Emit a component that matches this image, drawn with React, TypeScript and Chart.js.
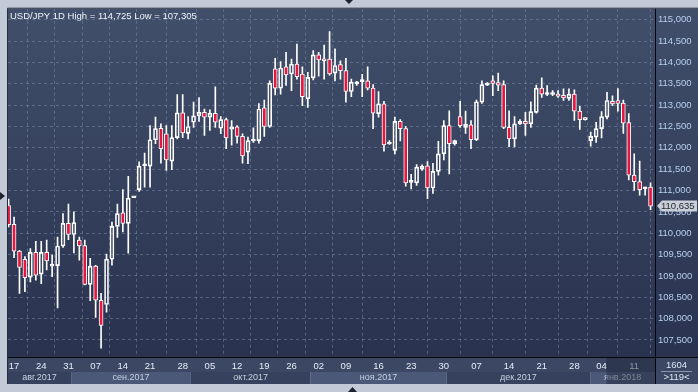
import React, { useEffect, useRef } from 'react';
import { Chart, registerables } from 'chart.js';

Chart.register(...registerables);

const titleText = 'USD/JPY 1D High = 114,725 Low = 107,305';

const opens = [
  110.65, 110.21, 109.58, 109.39, 108.97, 109.55, 109.04, 109.55, 109.23, 109.24,
  109.70, 110.23, 109.97, 109.84, 109.71, 108.80, 109.23, 108.43, 108.33, 109.39,
  110.16, 110.48, 110.23, 110.83, 111.02, 111.58, 111.57, 112.19, 112.46, 112.33,
  111.69, 112.24, 112.82, 112.34, 112.60, 112.75, 112.83, 112.72, 112.81, 112.46,
  112.66, 112.44, 112.49, 112.27, 111.90, 112.16, 112.17, 112.94, 112.50, 113.85,
  113.40, 113.90, 113.73, 113.96, 113.73, 113.15, 113.64, 114.18, 114.08, 114.08,
  113.75, 113.95, 113.81, 113.32, 113.50, 113.55, 113.57, 113.40, 112.80, 113.03,
  112.09, 111.94, 112.62, 112.45, 111.19, 111.18, 111.50, 111.58, 111.06, 111.45,
  111.86, 112.52, 112.10, 112.73, 112.48, 112.54, 112.19, 113.07, 113.47, 113.57,
  113.53, 113.48, 112.48, 112.21, 112.56, 112.62, 112.56, 112.83, 113.40, 113.25,
  113.25, 113.26, 113.23, 113.16, 113.26, 112.86, 112.66, 112.17, 112.25, 112.45,
  112.72, 113.09, 113.11, 113.05, 112.59, 111.36, 111.21, 111.04, 111.08,
];
const highs = [
  110.80, 110.38, 109.60, 109.45, 109.64, 109.81, 109.81, 109.84, 109.49, 109.91,
  110.46, 110.68, 110.50, 109.91, 109.84, 109.41, 109.25, 108.59, 109.51, 110.26,
  110.68, 111.02, 111.33, 110.85, 111.67, 111.88, 112.52, 112.72, 112.56, 112.52,
  112.52, 113.25, 113.25, 112.73, 113.07, 113.18, 112.91, 112.89, 113.43, 112.73,
  112.70, 112.64, 112.52, 112.33, 112.25, 112.47, 113.04, 113.12, 113.57, 114.10,
  114.02, 114.24, 114.08, 114.43, 113.90, 113.77, 114.28, 114.24, 114.41, 114.725,
  114.32, 114.04, 114.10, 113.61, 113.56, 113.72, 113.90, 113.48, 113.32, 113.09,
  112.17, 112.72, 112.66, 112.50, 111.38, 111.61, 111.60, 111.68, 111.64, 112.15,
  112.64, 112.87, 112.18, 113.09, 112.86, 112.64, 113.12, 113.57, 113.53, 113.69,
  113.75, 113.57, 112.87, 112.73, 112.66, 112.83, 113.08, 113.47, 113.64, 113.46,
  113.34, 113.34, 113.38, 113.38, 113.36, 112.97, 112.71, 112.37, 112.60, 112.85,
  113.30, 113.22, 113.39, 113.12, 112.80, 111.86, 111.69, 111.08, 111.18,
];
const lows = [
  110.15, 109.43, 108.59, 108.63, 108.86, 108.90, 108.82, 109.14, 108.98, 108.25,
  109.67, 109.85, 109.54, 109.37, 108.79, 108.42, 108.03, 107.305, 108.15, 109.25,
  109.90, 110.03, 109.53, 110.83, 110.98, 111.08, 111.08, 112.10, 111.64, 111.47,
  111.49, 112.21, 112.24, 112.21, 112.48, 112.62, 112.29, 112.41, 112.48, 112.33,
  111.98, 112.06, 112.11, 111.64, 111.63, 112.13, 112.11, 112.27, 112.48, 113.24,
  113.26, 113.46, 113.34, 113.61, 112.99, 112.95, 113.59, 113.68, 113.61, 113.70,
  113.57, 113.61, 113.07, 113.20, 113.46, 113.20, 113.36, 112.45, 112.72, 111.92,
  112.08, 111.86, 112.16, 111.10, 111.04, 111.12, 111.47, 110.81, 110.93, 111.36,
  111.72, 111.39, 112.06, 112.48, 112.34, 111.98, 112.17, 113.04, 113.46, 113.22,
  113.34, 112.45, 112.03, 112.02, 112.55, 112.29, 112.48, 112.81, 113.18, 113.22,
  113.22, 113.18, 113.11, 113.11, 112.64, 112.43, 112.65, 112.04, 112.13, 112.23,
  112.68, 112.99, 112.86, 112.34, 111.25, 111.00, 110.89, 110.89, 110.55,
];
const closes = [
  110.20, 109.58, 109.20, 108.96, 109.55, 109.02, 109.55, 109.35, 109.25, 109.70,
  110.23, 109.97, 110.25, 109.70, 108.80, 109.23, 108.43, 107.84, 109.39, 110.16,
  110.46, 110.23, 110.82, 110.84, 111.57, 111.60, 112.19, 112.45, 111.98, 111.72,
  112.24, 112.82, 112.35, 112.50, 112.75, 112.83, 112.72, 112.81, 112.60, 112.66,
  112.23, 112.49, 112.27, 111.81, 112.17, 112.20, 112.91, 112.50, 113.51, 113.40,
  113.87, 113.71, 113.96, 113.67, 113.20, 113.65, 114.18, 114.06, 114.04, 113.73,
  113.93, 113.81, 113.32, 113.54, 113.52, 113.56, 113.40, 112.81, 113.03, 112.07,
  112.11, 112.62, 112.45, 111.18, 111.21, 111.55, 111.57, 111.06, 111.45, 111.86,
  112.52, 112.10, 112.17, 112.52, 112.55, 112.19, 113.08, 113.48, 113.48, 113.51,
  113.47, 112.48, 112.21, 112.56, 112.62, 112.56, 112.85, 113.40, 113.26, 113.26,
  113.26, 113.21, 113.17, 113.26, 112.86, 112.66, 112.70, 112.27, 112.45, 112.73,
  113.11, 113.03, 113.04, 112.58, 111.36, 111.21, 111.02, 111.05, 110.635,
];

const dateTickIdx = [1, 6, 11, 16, 21, 26, 32, 37, 42, 47, 52, 57, 62, 68, 74, 80, 86, 92, 98, 104, 109, 115];
const dateTickLabels = ['17', '24', '31', '07', '14', '21', '28', '05', '12', '19', '26', '02', '09', '16', '23', '30', '07', '14', '21', '28', '04', '11'];

const monthNames = ['авг.2017', 'сен.2017', 'окт.2017', 'ноя.2017', 'дек.2017', 'янв.2018'];
const monthStartIdx = [-1, 11.5, 33.5, 55.5, 80.5, 106.9];
const monthEndIdx = [11.5, 33.5, 55.5, 80.5, 106.9, 125];

const priceTicks = [107.5, 108, 108.5, 109, 109.5, 110, 110.5, 111, 111.5, 112, 112.5, 113, 113.5, 114, 114.5, 115];
const lastPrice = 110.635;
const totalBars = '1604';
const visibleBars = '>119<';

const FONT = "'Liberation Sans', Arial, sans-serif";
const RED = '#e4173f';
const fmt = (v: number) => v.toFixed(3).replace('.', ',');

export default function App() {
  const ref = useRef<HTMLCanvasElement>(null);

  useEffect(() => {
    document.body.style.margin = '0';
    const canvas = ref.current!;
    const idx = opens.map((_, i) => i);
    const bodies = idx.map((i) => ({ x: i, y: [opens[i], closes[i]] }));
    const upper = idx.map((i) => ({ x: i, y: [Math.max(opens[i], closes[i]), highs[i]] }));
    const lower = idx.map((i) => ({ x: i, y: [lows[i], Math.min(opens[i], closes[i])] }));
    const bodyFill = idx.map((i) => (closes[i] < opens[i] ? RED : 'rgba(0,0,0,0)'));

    const decor = {
      id: 'decor',
      beforeDraw(chart: any) {
        const ctx = chart.ctx;
        const W = chart.width;
        const H = chart.height;
        const ca = chart.chartArea;
        const xs = chart.scales.x;
        ctx.save();
        ctx.fillStyle = '#c2cad7';
        ctx.fillRect(0, 0, W, H);
        const g = ctx.createLinearGradient(0, ca.top, 0, ca.bottom);
        g.addColorStop(0, '#414f6b');
        g.addColorStop(1, '#29324e');
        ctx.fillStyle = g;
        ctx.fillRect(ca.left, ca.top, W - ca.left, ca.bottom - ca.top);
        // date row
        ctx.fillStyle = '#3b4763';
        ctx.fillRect(ca.left, ca.bottom, W - ca.left, 15);
        // month bands
        for (let m = 0; m < monthNames.length; m++) {
          const a = Math.max(ca.left, xs.getPixelForValue(monthStartIdx[m]));
          const b = Math.min(ca.right, xs.getPixelForValue(monthEndIdx[m]));
          ctx.fillStyle = m % 2 === 0 ? '#36425d' : '#4b5877';
          ctx.fillRect(a, ca.bottom + 15, b - a, 12);
        }
        ctx.fillStyle = '#3b4763';
        ctx.fillRect(ca.right, ca.bottom, W - ca.right, 27);
        ctx.restore();
      },
      afterDraw(chart: any) {
        const ctx = chart.ctx;
        const W = chart.width;
        const ca = chart.chartArea;
        const xs = chart.scales.x;
        const ys = chart.scales.y;
        ctx.save();
        // month labels
        ctx.font = `9px ${FONT}`;
        ctx.textAlign = 'center';
        ctx.textBaseline = 'middle';
        ctx.fillStyle = '#c6d0e2';
        for (let m = 0; m < monthNames.length; m++) {
          const a = Math.max(ca.left, xs.getPixelForValue(monthStartIdx[m]));
          const b = Math.min(ca.right, xs.getPixelForValue(monthEndIdx[m]));
          ctx.fillText(monthNames[m], (a + b) / 2, ca.bottom + 21);
        }
        // scroll overlay
        ctx.fillStyle = 'rgba(28,36,56,0.45)';
        const ox = xs.getPixelForValue(109.9);
        ctx.fillRect(ox, ca.bottom + 1, ca.right - ox, 26);
        // separators
        ctx.strokeStyle = '#05070c';
        ctx.lineWidth = 1;
        ctx.beginPath();
        ctx.moveTo(ca.right + 0.5, ca.top);
        ctx.lineTo(ca.right + 0.5, ca.bottom + 27);
        ctx.moveTo(ca.left, ca.bottom + 0.5);
        ctx.lineTo(W, ca.bottom + 0.5);
        ctx.stroke();
        ctx.strokeStyle = '#262d3c';
        ctx.beginPath();
        ctx.moveTo(ca.left - 0.5, ca.top - 0.5);
        ctx.lineTo(W, ca.top - 0.5);
        ctx.moveTo(ca.left - 0.5, ca.top - 0.5);
        ctx.lineTo(ca.left - 0.5, ca.bottom + 27);
        ctx.stroke();
        // bottom-right box
        ctx.fillStyle = '#dde6f2';
        ctx.font = `9.5px ${FONT}`;
        ctx.fillText(totalBars, (ca.right + W) / 2, ca.bottom + 8);
        ctx.fillText(visibleBars, (ca.right + W) / 2, ca.bottom + 20);
        ctx.strokeStyle = '#8a97ad';
        ctx.beginPath();
        ctx.moveTo(ca.right + 6, ca.bottom + 14.5);
        ctx.lineTo(W - 6, ca.bottom + 14.5);
        ctx.stroke();
        // title
        ctx.textAlign = 'left';
        ctx.fillStyle = '#eef2f8';
        ctx.font = `9.5px ${FONT}`;
        ctx.fillText(titleText, ca.left + 2, ca.top + 7.5);
        // last price label
        const py = Math.round(ys.getPixelForValue(lastPrice));
        const lx = ca.right + 2;
        ctx.fillStyle = '#c9ced7';
        ctx.beginPath();
        ctx.moveTo(lx, py);
        ctx.lineTo(lx + 5, py - 5.5);
        ctx.lineTo(W - 1, py - 5.5);
        ctx.lineTo(W - 1, py + 5.5);
        ctx.lineTo(lx + 5, py + 5.5);
        ctx.closePath();
        ctx.fill();
        ctx.fillStyle = '#1d2433';
        ctx.font = `9.5px ${FONT}`;
        ctx.fillText(fmt(lastPrice), lx + 4, py + 0.5);
        // navigation markers
        ctx.fillStyle = '#1c2230';
        ctx.beginPath();
        ctx.moveTo(0, 192);
        ctx.lineTo(5, 196);
        ctx.lineTo(0, 200);
        ctx.closePath();
        ctx.fill();
        ctx.beginPath();
        ctx.moveTo(345, 0);
        ctx.lineTo(353, 0);
        ctx.lineTo(349, 4);
        ctx.closePath();
        ctx.fill();
        ctx.beginPath();
        ctx.moveTo(348, 392);
        ctx.lineTo(357, 392);
        ctx.lineTo(352.5, 387);
        ctx.closePath();
        ctx.fill();
        ctx.restore();
      },
    };

    const chart = new Chart(canvas, {
      type: 'bar',
      data: {
        datasets: [
          {
            data: lower as any,
            backgroundColor: '#ffffff',
            borderWidth: 0,
            barThickness: 1,
            grouped: false,
            order: 2,
          } as any,
          {
            data: upper as any,
            backgroundColor: '#ffffff',
            borderWidth: 0,
            barThickness: 1,
            grouped: false,
            order: 2,
          } as any,
          {
            data: bodies as any,
            backgroundColor: bodyFill,
            borderColor: '#ffffff',
            borderWidth: 1,
            borderSkipped: false,
            barThickness: 4,
            minBarLength: 2,
            grouped: false,
            order: 1,
          } as any,
        ],
      },
      plugins: [decor],
      options: {
        animation: false,
        responsive: false,
        devicePixelRatio: 1,
        layout: { padding: { left: 8, top: 8, right: 0, bottom: 0 } },
        plugins: { legend: { display: false }, tooltip: { enabled: false } },
        scales: {
          x: {
            type: 'linear',
            min: -0.11,
            max: 118.82,
            offset: false,
            afterFit: (s: any) => {
              s.height = 35;
            },
            afterBuildTicks: (s: any) => {
              s.ticks = dateTickIdx.map((v) => ({ value: v }));
            },
            ticks: {
              autoSkip: false,
              maxRotation: 0,
              padding: 4,
              color: '#e6ecf5',
              font: { family: FONT, size: 9.5 },
              callback: (_v: any, i: number) => dateTickLabels[i],
            },
            grid: { color: 'rgba(120,136,165,0.55)', drawTicks: false },
            border: { display: false, dash: [3, 3] },
          },
          y: {
            type: 'linear',
            position: 'right',
            min: 107.1,
            max: 115.26,
            afterFit: (s: any) => {
              s.width = 43;
            },
            afterBuildTicks: (s: any) => {
              s.ticks = priceTicks.map((v) => ({ value: v }));
            },
            ticks: {
              padding: 3,
              color: '#b6cfee',
              font: { family: FONT, size: 9.5 },
              callback: (v: any) => fmt(Number(v)),
            },
            grid: { color: 'rgba(120,136,165,0.55)', drawTicks: false },
            border: { display: false, dash: [3, 3] },
          },
        },
      } as any,
    });
    return () => chart.destroy();
  }, []);

  return <canvas ref={ref} width={698} height={392} style={{ display: 'block', width: 698, height: 392 }} />;
}
